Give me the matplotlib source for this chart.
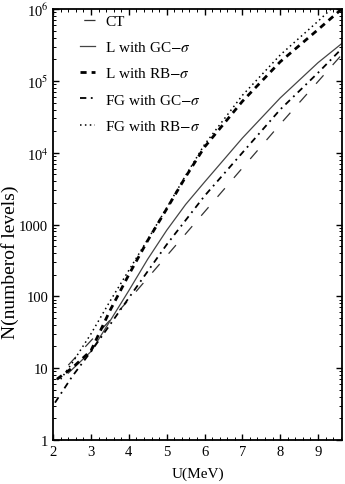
import matplotlib
matplotlib.use('Agg')
import matplotlib.pyplot as plt
from matplotlib.ticker import FixedLocator, LogLocator, MultipleLocator, NullFormatter

plt.rcParams['font.family'] = ['Liberation Serif', 'DejaVu Serif']
plt.rcParams['mathtext.fontset'] = 'stix'

# values (U in MeV, N = number of levels)
u_ct = [2.4, 4.0, 6.0, 8.0, 9.62]
n_ct = [11, 89, 1.5e3, 2.5e4, 2.3e5]

u_l_gc = [2.4, 3.0, 3.5, 4.0, 4.5, 5.0, 5.5, 6.0, 7.0, 8.0, 9.0, 9.62]
n_l_gc = [8.5, 17, 45, 120, 330, 830, 1.9e3, 3.9e3, 1.6e4, 5.8e4, 1.8e5, 3.3e5]

u_l_rb = [2.1, 2.5, 3.0, 3.5, 4.0, 4.5, 5.0, 5.5, 6.0, 7.0, 8.0, 9.0, 9.62]
n_l_rb = [7, 10, 17.5, 63, 200, 600, 1.65e3, 4.6e3, 1.2e4, 5.2e4, 1.85e5, 5.2e5, 1.0e6]

u_fg_gc = [2.05, 2.5, 3.0, 3.5, 4.0, 5.0, 6.0, 7.0, 8.0, 9.0, 9.62]
n_fg_gc = [3.3, 7.6, 17, 40, 95, 525, 2.5e3, 1.0e4, 4.0e4, 1.3e5, 2.8e5]

u_fg_rb = [2.2, 2.5, 3.0, 3.5, 4.0, 4.5, 5.0, 5.5, 6.0, 7.0, 8.0, 9.0, 9.4]
n_fg_rb = [7, 11.7, 30, 85, 230, 620, 1.7e3, 4.8e3, 1.3e4, 6.3e4, 2.3e5, 6.8e5, 1.07e6]

y_ticks = [1, 10, 100, 1000, 1e4, 1e5, 1e6]
y_labels = ['1', '10', '100', '1000', r'10$^{4}$', r'10$^{5}$', r'10$^{6}$']
x_ticks = [2, 3, 4, 5, 6, 7, 8, 9]

fig = plt.figure(figsize=(3.45, 4.85), dpi=100)
ax = fig.add_axes([0.154, 0.091, 0.837, 0.888])

ax.plot(u_ct, n_ct, color='#333333', lw=0.9, dashes=(9, 11), label='CT')
ax.plot(u_l_gc, n_l_gc, color='#444444', lw=0.9, label=r'L with GC$-\sigma$')
ax.plot(u_l_rb, n_l_rb, color='black', lw=2.0, dashes=(2.2, 1.8), label=r'L with RB$-\sigma$')
ax.plot(u_fg_gc, n_fg_gc, color='black', lw=1.3, dashes=(3.5, 2.5, 1, 2.5), label=r'FG with GC$-\sigma$')
ax.plot(u_fg_rb, n_fg_rb, color='black', lw=1.1, dashes=(1, 2.2), label=r'FG with RB$-\sigma$')

ax.set_yscale('log')
ax.set_xlim(2, 9.63)
ax.set_ylim(1, 1e6)

ax.xaxis.set_major_locator(FixedLocator(x_ticks))
ax.xaxis.set_minor_locator(MultipleLocator(0.2))
ax.yaxis.set_major_locator(FixedLocator(y_ticks))
ax.set_yticklabels(y_labels)
ax.yaxis.set_minor_locator(LogLocator(base=10, subs=range(2, 10), numticks=20))
ax.yaxis.set_minor_formatter(NullFormatter())

ax.tick_params(which='both', direction='in', top=True, right=True, labelsize=10.5)
ax.tick_params(which='major', length=4, width=1)
ax.tick_params(which='minor', length=2, width=0.7)
for s in ax.spines.values():
    s.set_linewidth(1.3)

ax.set_xlabel('U(MeV)', fontsize=11, labelpad=6)
ax.set_ylabel('N(numberof levels)', fontsize=14)
ax.yaxis.set_label_coords(-0.118, 0.415)

leg = ax.legend(loc='upper left', bbox_to_anchor=(0.093, 0.988), frameon=False,
                borderpad=0, borderaxespad=0,
                fontsize=11, handlelength=1.0, handletextpad=0.65, labelspacing=0.8)
# centre the single CT dash in its legend handle
leg.get_lines()[0].set_linestyle((17, (9, 11)))

fig.savefig('out.png', dpi=100)
